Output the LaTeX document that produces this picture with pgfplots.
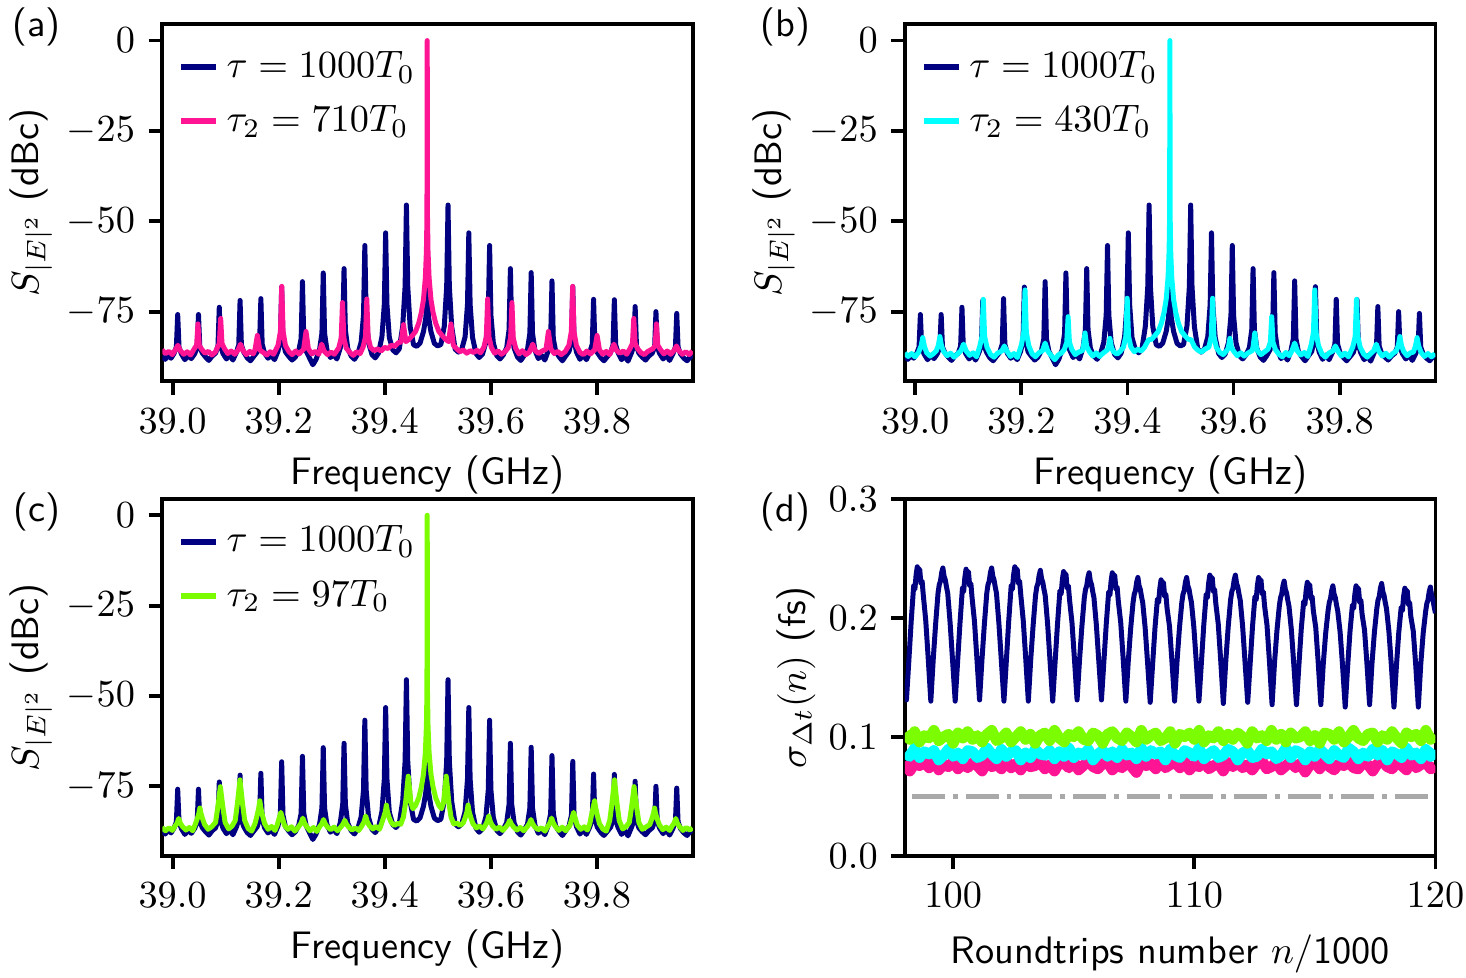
\documentclass[border=0pt]{standalone}
\usepackage{pgfplots}
\pgfplotsset{compat=1.18}
\usepackage{pgfplotstable}
\definecolor{cnavy}{HTML}{000080}
\definecolor{cpink}{HTML}{FF1493}
\definecolor{ccyan}{HTML}{00FFFF}
\definecolor{cgreen}{HTML}{7CFC00}
\definecolor{cgray}{HTML}{A9A9A9}

\pgfplotstableread{
f s
38.9800 -87.4
38.9860 -88.2
38.9920 -87.1
38.9970 -87.9
39.0026 -86.6
39.0071 -84.8
39.0096 -75.8
39.0121 -84.8
39.0166 -86.7
39.0231 -88.3
39.0292 -87.2
39.0353 -88.0
39.0418 -86.6
39.0463 -84.8
39.0488 -75.8
39.0513 -84.8
39.0558 -86.4
39.0623 -87.6
39.0684 -88.5
39.0745 -87.3
39.0810 -86.5
39.0855 -84.5
39.0880 -73.8
39.0905 -84.5
39.0950 -86.6
39.1015 -88.1
39.1076 -87.0
39.1137 -88.4
39.1202 -86.3
39.1247 -84.2
39.1272 -71.9
39.1297 -84.2
39.1342 -86.2
39.1407 -87.8
39.1468 -88.6
39.1529 -87.4
39.1594 -86.2
39.1639 -84.0
39.1664 -71.4
39.1689 -84.0
39.1734 -86.5
39.1799 -87.9
39.1860 -87.1
39.1921 -88.3
39.1986 -86.0
39.2031 -83.0
39.2056 -68.2
39.2081 -83.0
39.2126 -86.1
39.2191 -87.4
39.2252 -88.4
39.2313 -87.6
39.2378 -85.8
39.2423 -82.5
39.2448 -66.7
39.2473 -82.5
39.2518 -85.9
39.2583 -87.9
39.2644 -89.7
39.2705 -88.2
39.2770 -85.5
39.2815 -81.0
39.2840 -64.3
39.2865 -81.0
39.2910 -85.6
39.2975 -87.7
39.3036 -86.9
39.3097 -88.1
39.3162 -85.0
39.3207 -80.0
39.3232 -63.1
39.3257 -80.0
39.3302 -85.2
39.3367 -87.3
39.3428 -88.2
39.3489 -86.8
39.3554 -83.5
39.3599 -76.0
39.3624 -56.7
39.3649 -76.0
39.3694 -83.6
39.3759 -86.9
39.3820 -87.8
39.3881 -86.5
39.3946 -82.0
39.3991 -73.0
39.4016 -53.2
39.4041 -73.0
39.4086 -82.2
39.4151 -85.6
39.4212 -86.4
39.4273 -85.3
39.4338 -79.0
39.4383 -68.0
39.4408 -45.5
39.4433 -68.0
39.4478 -79.2
39.4543 -84.2
39.4604 -84.6
39.4665 -83.7
39.4730 -80.5
39.4775 -76.5
39.4800 -68.2
39.4825 -76.5
39.4870 -80.5
39.4935 -83.8
39.4996 -84.5
39.5057 -84.1
39.5122 -79.0
39.5167 -68.0
39.5192 -45.5
39.5217 -68.0
39.5262 -79.2
39.5327 -85.4
39.5388 -86.2
39.5449 -85.5
39.5514 -82.0
39.5559 -73.0
39.5584 -53.2
39.5609 -73.0
39.5654 -82.1
39.5719 -86.6
39.5780 -87.7
39.5841 -86.8
39.5906 -83.5
39.5951 -76.0
39.5976 -56.7
39.6001 -76.0
39.6046 -83.6
39.6111 -87.2
39.6172 -88.1
39.6233 -87.0
39.6298 -85.0
39.6343 -80.0
39.6368 -63.1
39.6393 -80.0
39.6438 -85.1
39.6503 -87.6
39.6564 -88.5
39.6625 -87.2
39.6690 -85.5
39.6735 -81.0
39.6760 -64.2
39.6785 -81.0
39.6830 -85.7
39.6895 -88.0
39.6956 -87.1
39.7017 -88.4
39.7082 -85.8
39.7127 -82.5
39.7152 -66.5
39.7177 -82.5
39.7222 -86.0
39.7287 -87.5
39.7348 -88.6
39.7409 -87.3
39.7474 -86.0
39.7519 -83.0
39.7544 -68.1
39.7569 -83.0
39.7614 -86.2
39.7679 -88.2
39.7740 -87.0
39.7801 -88.3
39.7866 -86.2
39.7911 -84.0
39.7936 -71.6
39.7961 -84.0
39.8006 -86.3
39.8071 -87.7
39.8132 -88.6
39.8193 -87.5
39.8258 -86.3
39.8303 -84.2
39.8328 -71.7
39.8353 -84.2
39.8398 -86.4
39.8463 -88.3
39.8524 -87.2
39.8585 -88.7
39.8650 -86.4
39.8695 -84.5
39.8720 -73.6
39.8745 -84.5
39.8790 -86.5
39.8855 -87.6
39.8916 -88.4
39.8977 -87.3
39.9042 -86.5
39.9087 -84.8
39.9112 -75.0
39.9137 -84.8
39.9182 -86.6
39.9247 -88.1
39.9308 -87.0
39.9369 -88.5
39.9434 -86.6
39.9479 -84.8
39.9504 -75.5
39.9529 -84.8
39.9574 -86.7
39.9639 -87.9
39.9700 -88.6
39.9760 -87.4
39.9800 -88.0
}\bluespec

\pgfplotstableread{
f s
38.9800 -85.6
38.9865 -86.6
38.9930 -86.0
38.9995 -86.9
39.0055 -85.5
39.0100 -84.3
39.0145 -85.8
39.0210 -86.8
39.0275 -86.1
39.0340 -87.0
39.0408 -85.3
39.0453 -84.3
39.0478 -78.4
39.0503 -84.3
39.0548 -85.4
39.0610 -86.5
39.0675 -86.0
39.0740 -87.0
39.0805 -86.2
39.0836 -85.2
39.0881 -83.8
39.0906 -76.9
39.0931 -83.8
39.0976 -85.2
39.1040 -86.6
39.1105 -85.9
39.1170 -86.8
39.1235 -85.6
39.1280 -84.0
39.1325 -85.7
39.1390 -86.9
39.1455 -86.0
39.1520 -86.7
39.1553 -85.6
39.1598 -81.6
39.1643 -85.6
39.1710 -86.3
39.1775 -87.0
39.1840 -86.1
39.1905 -86.8
39.1988 -84.3
39.2033 -80.5
39.2058 -68.0
39.2083 -80.5
39.2128 -84.4
39.2190 -86.0
39.2255 -86.9
39.2320 -85.9
39.2385 -86.7
39.2470 -85.4
39.2515 -80.5
39.2560 -85.3
39.2625 -86.7
39.2690 -86.0
39.2755 -86.8
39.2810 -84.0
39.2855 -85.9
39.2920 -86.9
39.2985 -86.2
39.3050 -86.8
39.3133 -85.0
39.3178 -82.3
39.3203 -72.5
39.3228 -82.3
39.3273 -85.1
39.3340 -86.3
39.3405 -87.1
39.3470 -86.1
39.3535 -86.6
39.3591 -84.8
39.3636 -82.0
39.3661 -71.5
39.3686 -82.0
39.3731 -84.9
39.3800 -85.8
39.3865 -85.3
39.3930 -85.9
39.3995 -84.9
39.4060 -85.2
39.4125 -84.3
39.4190 -84.6
39.4255 -83.6
39.4308 -83.4
39.4353 -78.6
39.4398 -83.3
39.4460 -82.6
39.4520 -81.6
39.4580 -80.5
39.4640 -78.2
39.4690 -75.2
39.4730 -71.6
39.4765 -65.6
39.4785 -58.2
39.4795 -48.7
39.4800 0
39.4805 -48.7
39.4815 -58.2
39.4835 -65.6
39.4870 -71.6
39.4910 -75.2
39.4960 -78.2
39.5020 -80.5
39.5080 -81.6
39.5140 -82.6
39.5202 -83.3
39.5247 -78.4
39.5292 -84.3
39.5350 -85.2
39.5415 -86.1
39.5480 -85.6
39.5545 -86.5
39.5610 -85.8
39.5675 -86.3
39.5740 -85.7
39.5805 -86.4
39.5869 -84.8
39.5914 -82.0
39.5939 -71.5
39.5964 -82.0
39.6009 -84.9
39.6070 -86.5
39.6135 -85.9
39.6200 -86.8
39.6265 -86.1
39.6327 -85.0
39.6372 -82.3
39.6397 -72.5
39.6422 -82.3
39.6467 -85.1
39.6530 -86.7
39.6595 -85.8
39.6660 -86.9
39.6725 -86.2
39.6790 -84.0
39.6835 -85.8
39.6900 -86.6
39.6965 -85.9
39.7040 -85.4
39.7085 -80.5
39.7130 -85.3
39.7195 -86.6
39.7260 -86.0
39.7325 -86.9
39.7400 -86.1
39.7472 -84.3
39.7517 -80.5
39.7542 -68.0
39.7567 -80.5
39.7612 -84.4
39.7680 -86.3
39.7745 -86.9
39.7810 -85.9
39.7875 -86.7
39.7957 -85.6
39.8002 -81.6
39.8047 -85.6
39.8110 -86.8
39.8175 -86.0
39.8240 -86.9
39.8320 -84.0
39.8365 -85.7
39.8430 -86.5
39.8495 -85.9
39.8560 -86.8
39.8624 -85.2
39.8669 -83.8
39.8694 -76.9
39.8719 -83.8
39.8764 -85.2
39.8830 -86.4
39.8895 -86.9
39.8960 -86.0
39.9052 -85.3
39.9097 -84.3
39.9122 -78.4
39.9147 -84.3
39.9192 -85.4
39.9260 -86.7
39.9325 -85.9
39.9390 -86.8
39.9455 -85.7
39.9500 -84.5
39.9545 -85.8
39.9610 -86.8
39.9675 -86.1
39.9740 -86.9
39.9800 -85.9
}\pinkspec

\pgfplotstableread{
f s
38.9800 -86.5
38.9865 -87.4
38.9930 -86.6
38.9995 -87.5
39.0060 -86.3
39.0110 -84.5
39.0140 -82.2
39.0170 -84.5
39.0215 -86.4
39.0280 -87.3
39.0345 -86.6
39.0394 -85.9
39.0434 -84.4
39.0464 -81.9
39.0494 -84.4
39.0534 -86.0
39.0600 -87.2
39.0665 -86.5
39.0730 -87.6
39.0795 -86.7
39.0860 -85.8
39.0910 -84.0
39.0960 -85.9
39.1025 -87.1
39.1090 -86.4
39.1155 -87.5
39.1212 -84.8
39.1257 -81.9
39.1282 -71.6
39.1307 -81.9
39.1352 -84.9
39.1420 -86.9
39.1485 -87.6
39.1550 -86.5
39.1630 -85.9
39.1680 -84.5
39.1730 -86.0
39.1795 -87.4
39.1860 -86.6
39.1925 -87.7
39.1999 -84.3
39.2044 -80.8
39.2069 -69.0
39.2094 -80.8
39.2139 -84.4
39.2200 -86.6
39.2265 -87.5
39.2330 -86.4
39.2398 -85.8
39.2448 -83.7
39.2498 -85.9
39.2565 -87.2
39.2630 -88.3
39.2695 -87.0
39.2760 -86.4
39.2811 -85.4
39.2856 -83.5
39.2881 -76.4
39.2906 -83.5
39.2951 -85.5
39.3015 -86.9
39.3080 -86.2
39.3150 -85.8
39.3170 -84.6
39.3200 -80.9
39.3230 -84.6
39.3280 -86.0
39.3345 -87.3
39.3410 -86.4
39.3475 -87.4
39.3540 -86.5
39.3619 -85.6
39.3639 -85.0
39.3669 -82.4
39.3699 -85.0
39.3740 -86.1
39.3800 -86.8
39.3865 -86.0
39.3925 -84.8
39.3970 -81.8
39.3995 -71.3
39.4020 -81.8
39.4065 -84.8
39.4130 -86.1
39.4195 -85.4
39.4260 -85.9
39.4320 -84.9
39.4398 -82.8
39.4460 -82.6
39.4520 -81.6
39.4580 -80.5
39.4640 -78.2
39.4690 -75.2
39.4730 -71.6
39.4765 -65.6
39.4785 -58.2
39.4795 -48.7
39.4800 0
39.4805 -48.7
39.4815 -58.2
39.4835 -65.6
39.4870 -71.6
39.4910 -75.2
39.4960 -78.2
39.5020 -80.5
39.5080 -81.6
39.5140 -82.6
39.5202 -82.8
39.5265 -84.8
39.5330 -85.7
39.5395 -86.2
39.5460 -85.4
39.5535 -84.8
39.5580 -81.8
39.5605 -71.3
39.5630 -81.8
39.5675 -84.9
39.5740 -86.3
39.5805 -86.9
39.5881 -85.6
39.5901 -85.0
39.5931 -82.4
39.5961 -85.0
39.6005 -86.0
39.6070 -87.2
39.6135 -86.4
39.6200 -87.3
39.6265 -86.5
39.6350 -85.8
39.6370 -84.6
39.6400 -80.9
39.6430 -84.6
39.6450 -85.8
39.6515 -86.9
39.6580 -86.2
39.6649 -85.4
39.6694 -83.5
39.6719 -76.4
39.6744 -83.5
39.6789 -85.5
39.6855 -86.8
39.6920 -87.5
39.6985 -86.3
39.7050 -87.2
39.7102 -85.8
39.7152 -83.7
39.7202 -85.9
39.7270 -87.0
39.7335 -86.3
39.7400 -87.4
39.7461 -84.3
39.7506 -80.8
39.7531 -69.0
39.7556 -80.8
39.7601 -84.4
39.7665 -86.7
39.7730 -87.6
39.7795 -86.5
39.7870 -85.9
39.7920 -84.5
39.7970 -86.0
39.8035 -87.3
39.8100 -86.5
39.8165 -87.5
39.8248 -84.8
39.8293 -81.9
39.8318 -71.6
39.8343 -81.9
39.8388 -84.9
39.8455 -86.8
39.8520 -87.6
39.8585 -86.6
39.8640 -85.9
39.8690 -84.0
39.8740 -86.0
39.8805 -87.3
39.8870 -86.5
39.8935 -87.6
39.9000 -86.6
39.9066 -85.9
39.9106 -84.4
39.9136 -81.9
39.9166 -84.4
39.9206 -86.0
39.9270 -87.2
39.9335 -86.4
39.9390 -86.2
39.9430 -84.5
39.9460 -82.2
39.9490 -84.5
39.9535 -86.3
39.9600 -87.4
39.9665 -86.6
39.9730 -87.5
39.9800 -86.6
}\cyanspec

\pgfplotstableread{
f s
38.9800 -86.4
38.9865 -87.3
38.9930 -86.5
38.9995 -87.2
39.0045 -86.0
39.0085 -85.2
39.0115 -83.9
39.0145 -85.2
39.0185 -86.1
39.0250 -87.1
39.0315 -86.4
39.0380 -87.3
39.0425 -85.6
39.0465 -84.0
39.0495 -82.5
39.0515 -81.0
39.0535 -82.5
39.0565 -84.0
39.0605 -85.6
39.0670 -86.9
39.0735 -86.2
39.0810 -85.0
39.0850 -81.0
39.0880 -77.5
39.0900 -75.1
39.0920 -77.5
39.0950 -81.0
39.0990 -85.0
39.1055 -86.8
39.1120 -86.0
39.1180 -84.5
39.1220 -80.0
39.1250 -76.0
39.1270 -73.2
39.1290 -76.0
39.1320 -80.0
39.1360 -84.5
39.1425 -86.7
39.1490 -87.4
39.1554 -85.3
39.1594 -83.0
39.1624 -81.0
39.1644 -79.0
39.1664 -81.0
39.1694 -83.0
39.1734 -85.3
39.1800 -86.9
39.1865 -86.1
39.1930 -87.2
39.1970 -85.8
39.2010 -83.8
39.2040 -82.2
39.2070 -83.8
39.2110 -85.8
39.2175 -86.9
39.2240 -86.2
39.2305 -87.4
39.2385 -86.0
39.2425 -85.1
39.2455 -83.8
39.2485 -85.1
39.2525 -86.1
39.2590 -87.3
39.2655 -86.4
39.2720 -87.5
39.2775 -86.1
39.2815 -85.3
39.2845 -84.2
39.2875 -85.3
39.2915 -86.2
39.2980 -87.0
39.3045 -86.3
39.3110 -87.3
39.3175 -86.2
39.3215 -85.4
39.3245 -84.4
39.3275 -85.4
39.3315 -86.2
39.3380 -87.1
39.3445 -86.5
39.3510 -87.2
39.3570 -85.9
39.3610 -84.8
39.3640 -83.2
39.3670 -84.8
39.3710 -85.9
39.3775 -86.8
39.3840 -86.1
39.3900 -86.9
39.3940 -85.3
39.3980 -83.5
39.4010 -82.0
39.4030 -80.2
39.4050 -82.0
39.4080 -83.5
39.4120 -85.0
39.4180 -85.8
39.4240 -85.3
39.4300 -85.5
39.4352 -83.5
39.4392 -79.5
39.4422 -75.0
39.4442 -72.2
39.4462 -75.0
39.4492 -79.5
39.4530 -81.2
39.4580 -80.3
39.4640 -78.2
39.4690 -75.2
39.4730 -71.6
39.4765 -65.6
39.4785 -58.2
39.4795 -48.7
39.4800 0
39.4805 -48.7
39.4815 -58.2
39.4835 -65.6
39.4870 -71.6
39.4910 -75.2
39.4960 -78.2
39.5020 -80.3
39.5070 -81.2
39.5108 -79.5
39.5138 -75.0
39.5158 -72.2
39.5178 -75.0
39.5208 -79.5
39.5248 -83.5
39.5300 -85.4
39.5360 -85.2
39.5420 -85.8
39.5480 -85.1
39.5520 -83.5
39.5550 -82.0
39.5570 -80.2
39.5590 -82.0
39.5620 -83.5
39.5660 -85.3
39.5725 -86.5
39.5790 -86.0
39.5850 -86.8
39.5890 -85.9
39.5930 -84.8
39.5960 -83.2
39.5990 -84.8
39.6030 -85.9
39.6095 -86.9
39.6160 -86.3
39.6225 -87.2
39.6285 -86.2
39.6325 -85.4
39.6355 -84.4
39.6385 -85.4
39.6425 -86.2
39.6490 -87.1
39.6555 -86.4
39.6620 -87.3
39.6685 -86.2
39.6725 -85.3
39.6755 -84.2
39.6785 -85.3
39.6825 -86.2
39.6890 -87.0
39.6955 -86.5
39.7020 -87.4
39.7075 -86.0
39.7115 -85.1
39.7145 -83.8
39.7175 -85.1
39.7215 -86.1
39.7280 -87.2
39.7345 -86.3
39.7410 -87.3
39.7490 -85.8
39.7530 -83.8
39.7560 -82.2
39.7590 -83.8
39.7630 -85.8
39.7695 -86.9
39.7760 -86.2
39.7822 -87.1
39.7866 -85.3
39.7896 -83.0
39.7926 -81.0
39.7956 -79.0
39.7976 -81.0
39.8006 -83.0
39.8046 -85.3
39.8110 -86.8
39.8175 -87.4
39.8240 -84.5
39.8280 -80.0
39.8310 -76.0
39.8330 -73.2
39.8350 -76.0
39.8380 -80.0
39.8420 -84.5
39.8485 -86.8
39.8550 -86.1
39.8610 -85.0
39.8650 -81.0
39.8680 -77.5
39.8700 -75.1
39.8720 -77.5
39.8750 -81.0
39.8790 -85.0
39.8855 -86.9
39.8920 -86.3
39.8995 -85.6
39.9035 -84.0
39.9065 -82.5
39.9085 -81.0
39.9105 -82.5
39.9135 -84.0
39.9175 -85.6
39.9240 -87.0
39.9305 -86.3
39.9370 -87.2
39.9415 -86.0
39.9455 -85.2
39.9485 -83.9
39.9515 -85.2
39.9555 -86.1
39.9620 -87.2
39.9685 -86.4
39.9750 -87.1
39.9800 -86.5
}\greenspec

\pgfplotstableread{
n s
98.000 0.143
98.060 0.131
98.160 0.164
98.260 0.198
98.360 0.227
98.410 0.224
98.460 0.236
98.510 0.243
98.560 0.238
98.610 0.241
98.660 0.229
98.710 0.231
98.760 0.219
98.860 0.198
98.960 0.167
99.071 0.130
99.171 0.165
99.271 0.195
99.371 0.221
99.421 0.228
99.471 0.231
99.521 0.238
99.571 0.242
99.621 0.235
99.671 0.232
99.721 0.226
99.771 0.221
99.871 0.196
99.971 0.165
100.082 0.130
100.182 0.163
100.282 0.196
100.382 0.225
100.432 0.222
100.482 0.234
100.532 0.241
100.582 0.236
100.632 0.239
100.682 0.227
100.732 0.229
100.782 0.217
100.882 0.197
100.982 0.166
101.093 0.131
101.193 0.165
101.293 0.195
101.393 0.221
101.443 0.228
101.493 0.231
101.543 0.238
101.593 0.242
101.643 0.235
101.693 0.232
101.743 0.226
101.793 0.221
101.893 0.196
101.993 0.165
102.104 0.130
102.204 0.164
102.304 0.198
102.404 0.227
102.454 0.224
102.504 0.236
102.554 0.243
102.604 0.238
102.654 0.241
102.704 0.229
102.754 0.231
102.804 0.219
102.904 0.198
103.004 0.167
103.115 0.130
103.215 0.165
103.315 0.194
103.415 0.219
103.465 0.226
103.515 0.229
103.565 0.236
103.615 0.240
103.665 0.233
103.715 0.230
103.765 0.224
103.815 0.219
103.915 0.195
104.015 0.164
104.126 0.130
104.226 0.163
104.326 0.195
104.426 0.223
104.476 0.220
104.526 0.232
104.576 0.239
104.626 0.234
104.676 0.237
104.726 0.225
104.776 0.227
104.826 0.215
104.926 0.196
105.026 0.166
105.137 0.131
105.237 0.164
105.337 0.193
105.437 0.217
105.487 0.224
105.537 0.227
105.587 0.234
105.637 0.238
105.687 0.231
105.737 0.228
105.787 0.222
105.837 0.217
105.937 0.194
106.037 0.164
106.148 0.131
106.248 0.163
106.348 0.195
106.448 0.222
106.498 0.219
106.548 0.231
106.598 0.238
106.648 0.233
106.698 0.236
106.748 0.224
106.798 0.226
106.848 0.214
106.948 0.196
107.048 0.166
107.159 0.130
107.259 0.163
107.359 0.191
107.459 0.213
107.509 0.220
107.559 0.223
107.609 0.230
107.659 0.234
107.709 0.227
107.759 0.224
107.809 0.218
107.859 0.213
107.959 0.192
108.059 0.163
108.170 0.129
108.270 0.161
108.370 0.192
108.470 0.216
108.520 0.213
108.570 0.225
108.620 0.232
108.670 0.227
108.720 0.230
108.770 0.218
108.820 0.220
108.870 0.208
108.970 0.193
109.070 0.164
109.181 0.130
109.281 0.163
109.381 0.191
109.481 0.213
109.531 0.220
109.581 0.223
109.631 0.230
109.681 0.234
109.731 0.227
109.781 0.224
109.831 0.218
109.881 0.213
109.981 0.192
110.081 0.163
110.192 0.130
110.292 0.162
110.392 0.194
110.492 0.220
110.542 0.217
110.592 0.229
110.642 0.236
110.692 0.231
110.742 0.234
110.792 0.222
110.842 0.224
110.892 0.212
110.992 0.195
111.092 0.165
111.203 0.128
111.303 0.163
111.403 0.192
111.503 0.215
111.553 0.222
111.603 0.225
111.653 0.232
111.703 0.236
111.753 0.229
111.803 0.226
111.853 0.220
111.903 0.215
112.003 0.193
112.103 0.163
112.214 0.129
112.314 0.161
112.414 0.193
112.514 0.218
112.564 0.215
112.614 0.227
112.664 0.234
112.714 0.229
112.764 0.232
112.814 0.220
112.864 0.222
112.914 0.210
113.014 0.194
113.114 0.164
113.225 0.127
113.325 0.162
113.425 0.189
113.525 0.210
113.575 0.217
113.625 0.220
113.675 0.227
113.725 0.231
113.775 0.224
113.825 0.221
113.875 0.215
113.925 0.210
114.025 0.190
114.125 0.161
114.236 0.127
114.336 0.160
114.436 0.191
114.536 0.214
114.586 0.211
114.636 0.223
114.686 0.230
114.736 0.225
114.786 0.228
114.836 0.216
114.886 0.218
114.936 0.206
115.036 0.192
115.136 0.163
115.247 0.127
115.347 0.161
115.447 0.187
115.547 0.206
115.597 0.213
115.647 0.216
115.697 0.223
115.747 0.227
115.797 0.220
115.847 0.217
115.897 0.211
115.947 0.206
116.047 0.188
116.147 0.160
116.258 0.125
116.358 0.159
116.458 0.189
116.558 0.211
116.608 0.208
116.658 0.220
116.708 0.227
116.758 0.222
116.808 0.225
116.858 0.213
116.908 0.215
116.958 0.203
117.058 0.190
117.158 0.162
117.269 0.127
117.369 0.162
117.469 0.188
117.569 0.208
117.619 0.215
117.669 0.218
117.719 0.225
117.769 0.229
117.819 0.222
117.869 0.219
117.919 0.213
117.969 0.208
118.069 0.189
118.169 0.161
118.280 0.125
118.380 0.159
118.480 0.188
118.580 0.209
118.630 0.206
118.680 0.218
118.730 0.225
118.780 0.220
118.830 0.223
118.880 0.211
118.930 0.213
118.980 0.201
119.080 0.189
119.180 0.161
119.291 0.125
119.391 0.161
119.491 0.187
119.591 0.205
119.641 0.212
119.691 0.215
119.741 0.222
119.791 0.226
119.841 0.219
119.891 0.216
119.941 0.210
119.991 0.205
120.000 0.204
}\dblue

\pgfplotstableread{
n s
98.0 0.1033
98.2 0.0978
98.4 0.1044
98.6 0.0956
98.8 0.1011
99.0 0.0989
99.2 0.1055
99.4 0.0967
99.6 0.1000
99.8 0.1022
100.0 0.0945
100.2 0.1033
100.4 0.0989
100.6 0.1044
100.8 0.0978
101.0 0.1011
101.2 0.0956
101.4 0.1022
101.6 0.1055
101.8 0.0967
102.0 0.0989
102.2 0.1033
102.4 0.0956
102.6 0.1000
102.8 0.1044
103.0 0.0978
103.2 0.1022
103.4 0.0945
103.6 0.1011
103.8 0.1033
104.0 0.0967
104.2 0.1055
104.4 0.0989
104.6 0.0956
104.8 0.1022
105.0 0.1000
105.2 0.1044
105.4 0.0978
105.6 0.0967
105.8 0.1033
106.0 0.1011
106.2 0.0945
106.4 0.1022
106.6 0.1044
106.8 0.0989
107.0 0.0967
107.2 0.1033
107.4 0.1000
107.6 0.0956
107.8 0.1055
108.0 0.0978
108.2 0.1011
108.4 0.1033
108.6 0.0967
108.8 0.0989
109.0 0.1044
109.2 0.0945
109.4 0.1022
109.6 0.1000
109.8 0.1033
110.0 0.0978
110.2 0.1055
110.4 0.0956
110.6 0.1011
110.8 0.0989
111.0 0.1044
111.2 0.0967
111.4 0.1022
111.6 0.0978
111.8 0.1033
112.0 0.1000
112.2 0.0945
112.4 0.1044
112.6 0.0989
112.8 0.1011
113.0 0.0967
113.2 0.1055
113.4 0.0978
113.6 0.1022
113.8 0.0956
114.0 0.1033
114.2 0.0989
114.4 0.1000
114.6 0.1044
114.8 0.0967
115.0 0.1011
115.2 0.0945
115.4 0.1033
115.6 0.1022
115.8 0.0978
116.0 0.1044
116.2 0.0956
116.4 0.1000
116.6 0.1055
116.8 0.0989
117.0 0.0967
117.2 0.1022
117.4 0.1033
117.6 0.0956
117.8 0.1011
118.0 0.0978
118.2 0.1044
118.4 0.0989
118.6 0.0945
118.8 0.1033
119.0 0.1000
119.2 0.1022
119.4 0.0967
119.6 0.1055
119.8 0.0978
120.0 0.1011
}\dgreen

\pgfplotstableread{
n s
98.0 0.0865
98.2 0.0835
98.4 0.0905
98.6 0.0825
98.8 0.0875
99.0 0.0855
99.2 0.0885
99.4 0.0805
99.6 0.0845
99.8 0.0895
100.0 0.0835
100.2 0.0865
100.4 0.0815
100.6 0.0885
100.8 0.0875
101.0 0.0825
101.2 0.0845
101.4 0.0905
101.6 0.0855
101.8 0.0815
102.0 0.0895
102.2 0.0835
102.4 0.0875
102.6 0.0885
102.8 0.0805
103.0 0.0865
103.2 0.0825
103.4 0.0895
103.6 0.0855
103.8 0.0845
104.0 0.0885
104.2 0.0815
104.4 0.0875
104.6 0.0835
104.8 0.0905
105.0 0.0825
105.2 0.0865
105.4 0.0845
105.6 0.0895
105.8 0.0805
106.0 0.0855
106.2 0.0885
106.4 0.0835
106.6 0.0875
106.8 0.0825
107.0 0.0895
107.2 0.0845
107.4 0.0865
107.6 0.0815
107.8 0.0905
108.0 0.0835
108.2 0.0885
108.4 0.0855
108.6 0.0875
108.8 0.0805
109.0 0.0895
109.2 0.0845
109.4 0.0825
109.6 0.0885
109.8 0.0865
110.0 0.0835
110.2 0.0905
110.4 0.0815
110.6 0.0855
110.8 0.0885
111.0 0.0825
111.2 0.0845
111.4 0.0895
111.6 0.0875
111.8 0.0805
112.0 0.0865
112.2 0.0885
112.4 0.0825
112.6 0.0835
112.8 0.0895
113.0 0.0855
113.2 0.0875
113.4 0.0815
113.6 0.0845
113.8 0.0905
114.0 0.0825
114.2 0.0885
114.4 0.0865
114.6 0.0805
114.8 0.0875
115.0 0.0835
115.2 0.0895
115.4 0.0855
115.6 0.0815
115.8 0.0885
116.0 0.0845
116.2 0.0825
116.4 0.0905
116.6 0.0875
116.8 0.0815
117.0 0.0865
117.2 0.0835
117.4 0.0895
117.6 0.0845
117.8 0.0885
118.0 0.0805
118.2 0.0875
118.4 0.0855
118.6 0.0825
118.8 0.0905
119.0 0.0845
119.2 0.0865
119.4 0.0815
119.6 0.0895
119.8 0.0835
120.0 0.0885
}\dcyan

\pgfplotstableread{
n s
98.0 0.0793
98.2 0.0712
98.4 0.0775
98.6 0.0757
98.8 0.0784
99.0 0.0739
99.2 0.0802
99.4 0.0721
99.6 0.0766
99.8 0.0748
100.0 0.0793
100.2 0.0730
100.4 0.0775
100.6 0.0739
100.8 0.0784
101.0 0.0757
101.2 0.0712
101.4 0.0793
101.6 0.0748
101.8 0.0766
102.0 0.0730
102.2 0.0802
102.4 0.0739
102.6 0.0775
102.8 0.0721
103.0 0.0784
103.2 0.0748
103.4 0.0757
103.6 0.0793
103.8 0.0730
104.0 0.0766
104.2 0.0712
104.4 0.0784
104.6 0.0775
104.8 0.0739
105.0 0.0793
105.2 0.0721
105.4 0.0757
105.6 0.0802
105.8 0.0748
106.0 0.0730
106.2 0.0775
106.4 0.0784
106.6 0.0721
106.8 0.0766
107.0 0.0739
107.2 0.0793
107.4 0.0748
107.6 0.0700
107.8 0.0784
108.0 0.0757
108.2 0.0775
108.4 0.0730
108.6 0.0802
108.8 0.0739
109.0 0.0766
109.2 0.0784
109.4 0.0739
109.6 0.0793
109.8 0.0721
110.0 0.0766
110.2 0.0748
110.4 0.0802
110.6 0.0730
110.8 0.0757
111.0 0.0775
111.2 0.0712
111.4 0.0784
111.6 0.0748
111.8 0.0793
112.0 0.0739
112.2 0.0766
112.4 0.0721
112.6 0.0775
112.8 0.0802
113.0 0.0730
113.2 0.0748
113.4 0.0784
113.6 0.0721
113.8 0.0757
114.0 0.0793
114.2 0.0739
114.4 0.0775
114.6 0.0703
114.8 0.0766
115.0 0.0784
115.2 0.0730
115.4 0.0802
115.6 0.0748
115.8 0.0721
116.0 0.0775
116.2 0.0757
116.4 0.0793
116.6 0.0739
116.8 0.0730
117.0 0.0784
117.2 0.0766
117.4 0.0712
117.6 0.0775
117.8 0.0793
118.0 0.0748
118.2 0.0730
118.4 0.0784
118.6 0.0757
118.8 0.0721
119.0 0.0802
119.2 0.0739
119.4 0.0766
119.6 0.0784
119.8 0.0730
120.0 0.0748
}\dpink

\pgfplotsset{
  base/.style={
    scale only axis, width=138.5pt, height=93.13pt, anchor=south west,
    axis line style={line width=1pt},
    tick align=outside, tick pos=left, major tick length=3.6pt,
    every tick/.style={black, line width=1pt},
    every axis plot/.append style={line width=1.3pt, line join=round, no markers},
    legend cell align=left,
    legend style={draw=none, fill=none, at={(axis description cs:0,1)}, anchor=north west,
      xshift=1pt, yshift=-2.8pt, row sep=1.8pt},
    legend image code/.code={\draw[#1, line width=1.6pt, line cap=butt] (0pt,0pt) -- (9pt,0pt);},
  },
  spec/.style={base,
    xmin=38.9806, xmax=39.9806, ymin=-94.2, ymax=4.5,
    xtick={39.0,39.2,39.4,39.6,39.8}, ytick={-75,-50,-25,0},
    xlabel={\sffamily Frequency (GHz)},
    ylabel={$S_{|E|^2}$ \textsf{(dBc)}},
    xlabel style={at={(axis description cs:0.5,-0.262)}, anchor=center},
    ylabel style={at={(axis description cs:-0.2477,0.5)}, anchor=center},
    xticklabel style={/pgf/number format/.cd, fixed, fixed zerofill, precision=1},
  },
  band/.style={line width=2.8pt},
}

\begin{document}
\begin{tikzpicture}
\useasboundingbox (0,0) rectangle (382.77pt,255.35pt);

\begin{axis}[spec, at={(42.38pt,155.87pt)}]
\addplot[cnavy] table[x=f,y=s] {\bluespec};
\addlegendentry{$\tau = 1000T_0$}
\addplot[cpink] table[x=f,y=s] {\pinkspec};
\addlegendentry{$\tau_2 = 710T_0$}
\end{axis}

\begin{axis}[spec, at={(236.29pt,155.87pt)}]
\addplot[cnavy] table[x=f,y=s] {\bluespec};
\addlegendentry{$\tau = 1000T_0$}
\addplot[ccyan] table[x=f,y=s] {\cyanspec};
\addlegendentry{$\tau_2 = 430T_0$}
\end{axis}

\begin{axis}[spec, at={(42.38pt,31.93pt)}]
\addplot[cnavy] table[x=f,y=s] {\bluespec};
\addlegendentry{$\tau = 1000T_0$}
\addplot[cgreen] table[x=f,y=s] {\greenspec};
\addlegendentry{$\tau_2 = 97T_0$}
\end{axis}

\begin{axis}[base, at={(236.29pt,31.93pt)},
  xmin=98, xmax=120, ymin=0, ymax=0.3,
  xtick={100,110,120}, ytick={0,0.1,0.2,0.3},
  yticklabel style={/pgf/number format/.cd, fixed, fixed zerofill, precision=1},
  xlabel={\sffamily Roundtrips number $n/$1000},
  ylabel={$\sigma_{\Delta t}(n)$ \textsf{(fs)}},
  xlabel style={at={(axis description cs:0.5,-0.275)}, anchor=center},
  ylabel style={at={(axis description cs:-0.205,0.5)}, anchor=center}]
\addplot[cnavy] table[x=n,y=s] {\dblue};
\addplot[cpink, band] table[x=n,y=s] {\dpink};
\addplot[ccyan, band] table[x=n,y=s] {\dcyan};
\addplot[cgreen, band] table[x=n,y=s] {\dgreen};
\addplot[cgray, line width=1.2pt, line cap=butt, dash pattern=on 8.6pt off 2.1pt on 1.2pt off 2.1pt] coordinates {(98.3,0.05) (120,0.05)};
\end{axis}

\node[font=\sffamily] at (9.6pt,248.4pt) {(a)};
\node[font=\sffamily] at (205.0pt,248.4pt) {(b)};
\node[font=\sffamily] at (9.6pt,121.6pt) {(c)};
\node[font=\sffamily] at (205.0pt,121.6pt) {(d)};
\end{tikzpicture}
\end{document}
